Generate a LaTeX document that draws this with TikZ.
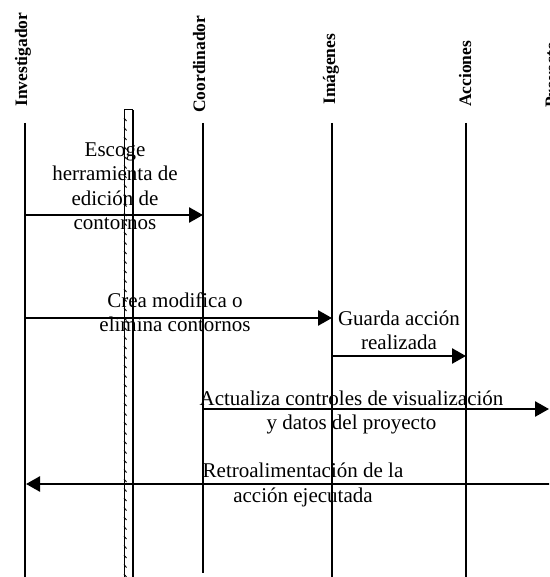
\documentclass[tikz,border=0pt]{standalone}
\usepackage{fontspec}
\setmainfont{Liberation Serif}
\usetikzlibrary{arrows.meta}
\begin{document}
\begin{tikzpicture}[x=1pt,y=-1pt,
  lifeline/.style={line width=1.5pt},
  msg/.style={line width=2.6pt,-{Triangle[length=14pt,width=15pt]}},
  msgtext/.style={font=\fontsize{21}{24.5}\selectfont, align=center, inner sep=0pt, anchor=north},
  actor/.style={font=\fontsize{17.5}{20}\selectfont\bfseries, rotate=90, anchor=base west, inner sep=0pt}]
\useasboundingbox (0,0) rectangle (549,577);
\clip (0,0) rectangle (549,577);

% actor labels
\node[actor] (linv) at (27,107) {Investigador};
\node[actor] (lcoo) at (205,113) {Coordinador};
\node[actor] (lima) at (335,105) {Imágenes};
\node[actor] (lacc) at (471,107) {Acciones};
\node[actor] (lpro) at (557,108) {Proyecto};

% lifelines
\coordinate (inv-t) at (25,123);  \coordinate (inv-b) at (25,577);
\coordinate (coo-t) at (203,123); \coordinate (coo-b) at (203,573);
\coordinate (ima-t) at (332,123); \coordinate (ima-b) at (332,577);
\coordinate (acc-t) at (466,123); \coordinate (acc-b) at (466,577);
\coordinate (pro-t) at (555,123); \coordinate (pro-b) at (555,577);
\foreach \a in {inv,coo,ima,acc,pro} \draw[lifeline] (\a-t) -- (\a-b);

% activation bar
\coordinate (bar-tl) at (124,110); \coordinate (bar-tr) at (133,110);
\coordinate (bar-bl) at (124,577); \coordinate (bar-br) at (133,577);
\draw[line width=1.4pt] (bar-tr) -- (bar-br);
\draw[line width=1pt] (bar-tl) -- (bar-tr);
\draw[line width=0.6pt] (bar-tl) -- (bar-bl);
\foreach \y in {118,127.5,...,577} \draw[line width=0.9pt] (124,\y) -- (126.5,\y+3);

% message anchor points
\coordinate (inv-1) at (25,215);  \coordinate (coo-1) at (203,215);
\coordinate (inv-2) at (25,318);  \coordinate (ima-2) at (332,318);
\coordinate (ima-3) at (332,356); \coordinate (acc-3) at (466,356);
\coordinate (coo-4) at (203,409); \coordinate (pro-4) at (549,409);
\coordinate (pro-5) at (555,484); \coordinate (inv-5) at (26,484);

\draw[msg] (inv-1) -- (coo-1);
\draw[msg] (inv-2) -- (ima-2);
\draw[msg] (ima-3) -- (acc-3);
\draw[msg] (coo-4) -- (pro-4);
\draw[msg] (pro-5) -- (inv-5);

% message texts
\node[msgtext] (t1) at (115,142.5) {Escoge\\herramienta de\\edición de\\contornos};
\node[msgtext] (t2) at (175,292.2) {Crea modifica o\\elimina contornos};
\node[msgtext] (t3) at (399,310.5) {Guarda acción\\realizada};
\node[msgtext] (t4) at (351.5,390.5) {Actualiza controles de visualización\\y datos del proyecto};
\node[msgtext] (t5) at (303,463) {Retroalimentación de la\\acción ejecutada};
\end{tikzpicture}
\end{document}
